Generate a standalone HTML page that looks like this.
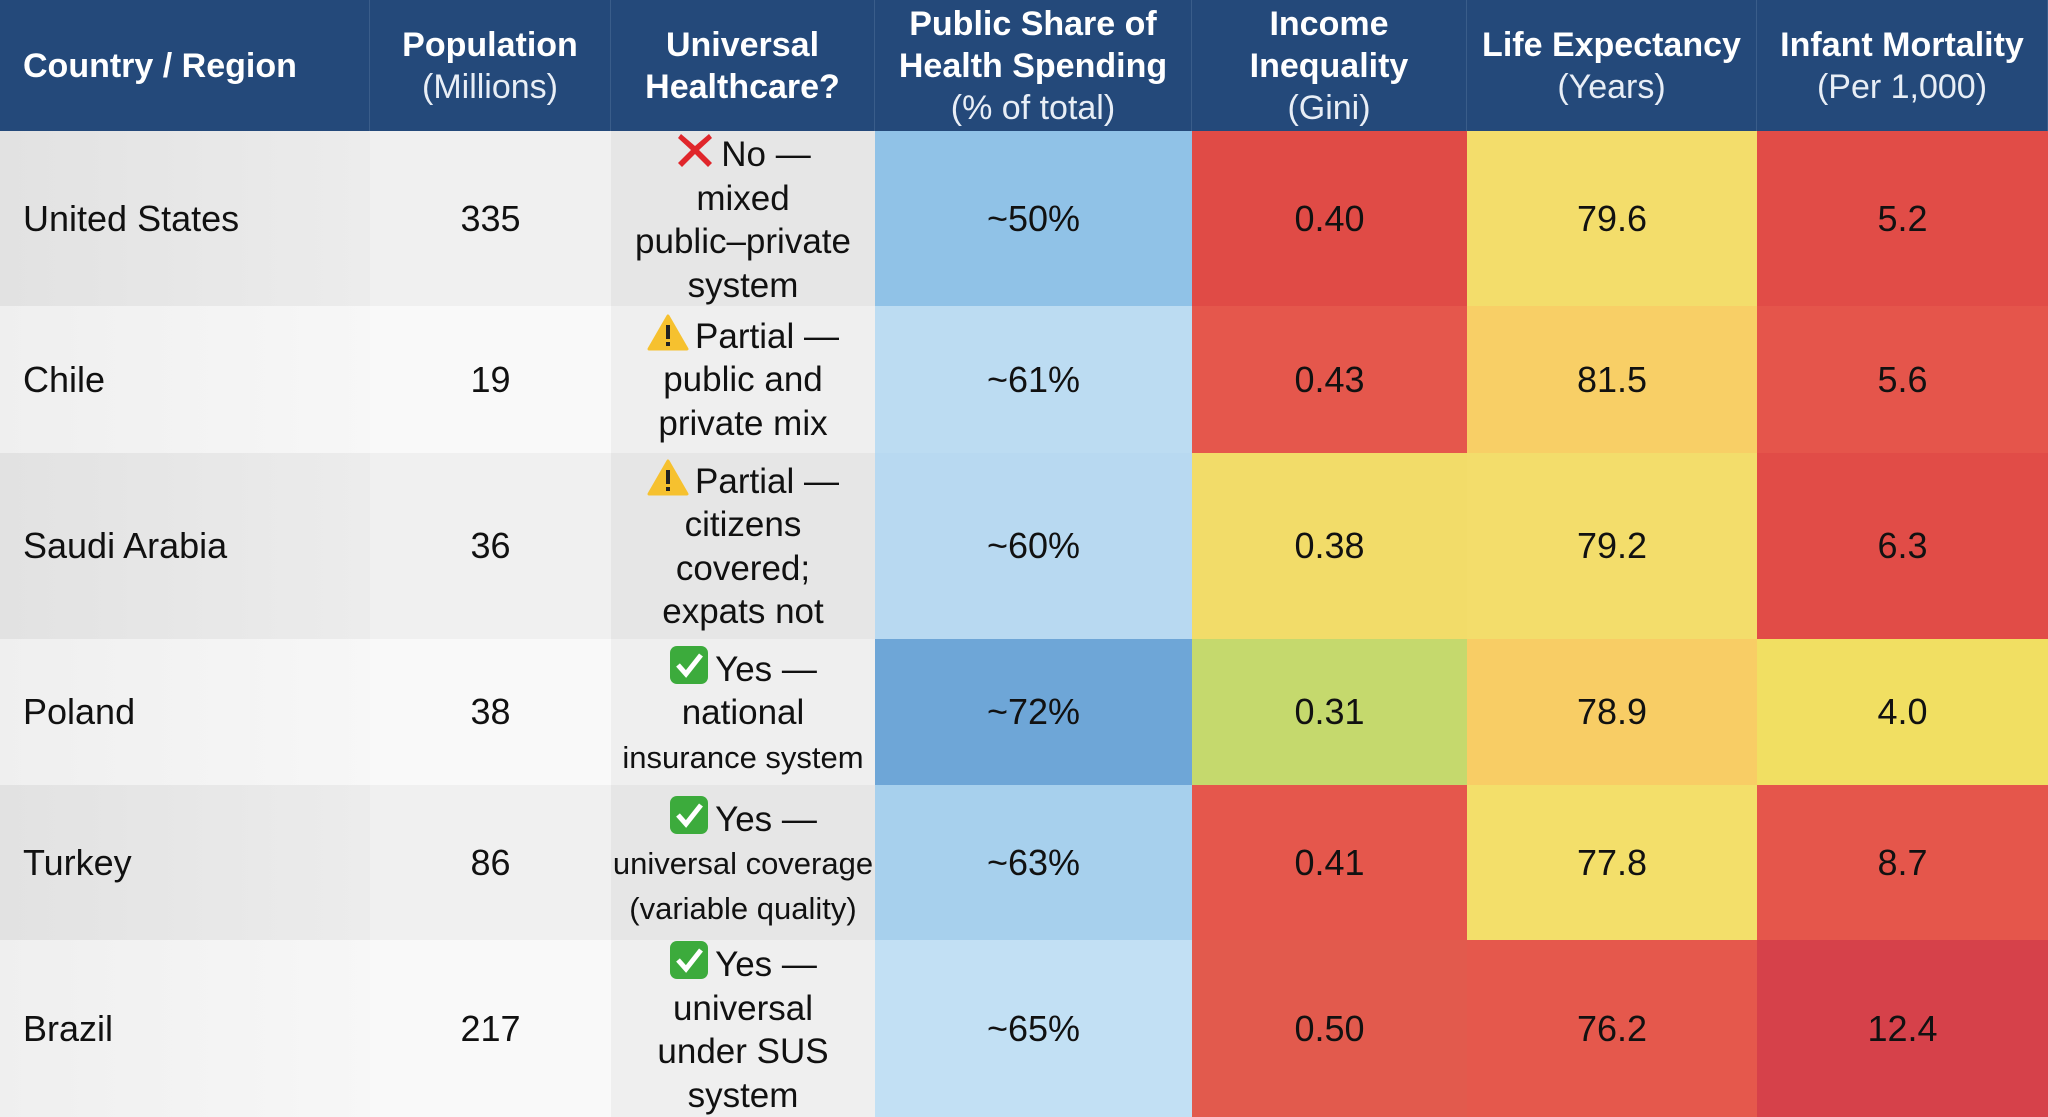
<!DOCTYPE html>
<html><head><meta charset="utf-8">
<style>
body{margin:0;width:2048px;height:1117px;overflow:hidden;background:#fff;font-family:"Liberation Sans",sans-serif;}
#t{position:relative;width:2048px;height:1117px;}
.c{position:absolute;box-sizing:border-box;display:flex;align-items:center;justify-content:center;text-align:center;color:#111;}
.h{background:#24497a;color:#fff;font-size:34px;line-height:42px;border-right:1px solid #3a5d8a;}
.h b{font-weight:bold;}
.h span{color:#e8eef6;}
.h span.bb{font-weight:bold;color:#fff;}
.v{font-size:36px;}
.u{font-size:35px;line-height:43.5px;}
.sm{font-size:31px;}
.ic{display:inline-block;vertical-align:-4px;margin-right:6px;}
</style></head><body>
<div id="t"></div>
<script>
const headers=[["Country / Region",""],["Population","(Millions)"],["Universal","Healthcare?"],["Public Share of<br>Health Spending","(% of total)"],["Income<br>Inequality","(Gini)"],["Life Expectancy","(Years)"],["Infant Mortality","(Per 1,000)"]];
const countries=["United States","Chile","Saudi Arabia","Poland","Turkey","Brazil"];
const population=[335,19,36,38,86,217];
const coverageIcon=["no","partial","partial","yes","yes","yes"];
const coverageText=[["No —","mixed","public–private","system"],["Partial —","public and","private mix"],["Partial —","citizens","covered;","expats not"],["Yes —","national","insurance system"],["Yes —","universal coverage","(variable quality)"],["Yes —","universal","under SUS","system"]];
const publicShare=[50,61,60,72,63,65];
const gini=["0.40","0.43","0.38","0.31","0.41","0.50"];
const lifeExp=["79.6","81.5","79.2","78.9","77.8","76.2"];
const infant=["5.2","5.6","6.3","4.0","8.7","12.4"];
// styling (not data)
const colX=[0,370,611,875,1192,1467,1757,2048];
const rowY=[0,131,306,453,639,785,940,1117];
const blueC=["#90c2e7","#bcdcf2","#b8d9f1","#6ea6d7","#a7d0ed","#c2e0f4"];
const giniC=["#e04b46","#e5574c","#f2dc69","#c5d96d","#e5574c","#e25a4d"];
const lifeC=["#f3dd6b","#f8cf66","#f3dd6b","#f8cd65","#f3df6a","#e5584c"];
const infC=["#e14c47","#e5554b","#e14c47","#f1df62","#e5564b","#d6414a"];
const t=document.getElementById('t');
function cell(ci,ri,html,cls,bg,name){
  const d=document.createElement('div');
  d.className='c '+cls;
  d.style.left=colX[ci]+'px';d.style.width=(colX[ci+1]-colX[ci])+'px';
  d.style.top=rowY[ri]+'px';d.style.height=(rowY[ri+1]-rowY[ri])+'px';
  if(bg)d.style.background=bg;
  d.innerHTML=html;
  
  
  t.appendChild(d);return d;
}
const icons={
 no:'<svg class="ic" width="40" height="40" viewBox="0 0 40 40"><path d="M6 4 L20 16 L34 4 L37 8 L24 20 L37 33 L33 37 L20 24 L7 37 L3 33 L16 20 L3 8Z" fill="#e0262b"/></svg>',
 partial:'<svg class="ic" width="42" height="38" viewBox="0 0 42 38"><path d="M21 2 L40 35 L2 35Z" fill="#f6c12f" stroke="#f6c12f" stroke-width="3" stroke-linejoin="round"/><rect x="19" y="11" width="4" height="14" fill="#222"/><rect x="19" y="28" width="4" height="4" fill="#222"/></svg>',
 yes:'<svg class="ic" width="40" height="40" viewBox="0 0 40 40"><rect x="1" y="1" width="38" height="38" rx="7" fill="#3cab3c"/><path d="M9 20 L17 29 L32 10" stroke="#fff" stroke-width="5" fill="none"/></svg>'
};
headers.forEach((h,i)=>{
  const html=h[1]?'<div><b>'+h[0]+'</b><br><span'+(i==2?' class="bb"':'')+'>'+h[1]+'</span></div>':'<div><b>'+h[0]+'</b></div>';
  const d=cell(i,0,html,'h',null,'header-'+i);
  if(i==0){d.style.justifyContent='flex-start';d.style.paddingLeft='23px';}
});
countries.forEach((c,r)=>{
  const ri=r+1;
  const alt=r%2==0;
  const d=cell(0,ri,c,'v',alt?'linear-gradient(90deg,#e2e2e2,#ececec)':'linear-gradient(90deg,#efefef,#f7f7f7)','country-'+r);
  d.style.justifyContent='flex-start';d.style.paddingLeft='23px';
  cell(1,ri,String(population[r]),'v',alt?'#f0f0f0':'#f9f9f9','population-'+r);
  const lines=coverageText[r];
  let html='<div>'+icons[coverageIcon[r]]+lines[0];
  for(let k=1;k<lines.length;k++){
    const small=(r==3&&k==2)||(r==4&&k>=1);
    html+='<br>'+(small?'<span class="sm">'+lines[k]+'</span>':lines[k]);
  }
  html+='</div>';
  const u=cell(2,ri,html,'u',alt?'#e6e6e6':'#efefef','coverage-'+r);
  u.style.whiteSpace='nowrap';
  cell(3,ri,'~'+publicShare[r]+'%','v',blueC[r],'public-share-'+r);
  cell(4,ri,gini[r],'v',giniC[r],'gini-'+r);
  cell(5,ri,lifeExp[r],'v',lifeC[r],'life-expectancy-'+r);
  cell(6,ri,infant[r],'v',infC[r],'infant-mortality-'+r);
});
</script>
</body></html>
